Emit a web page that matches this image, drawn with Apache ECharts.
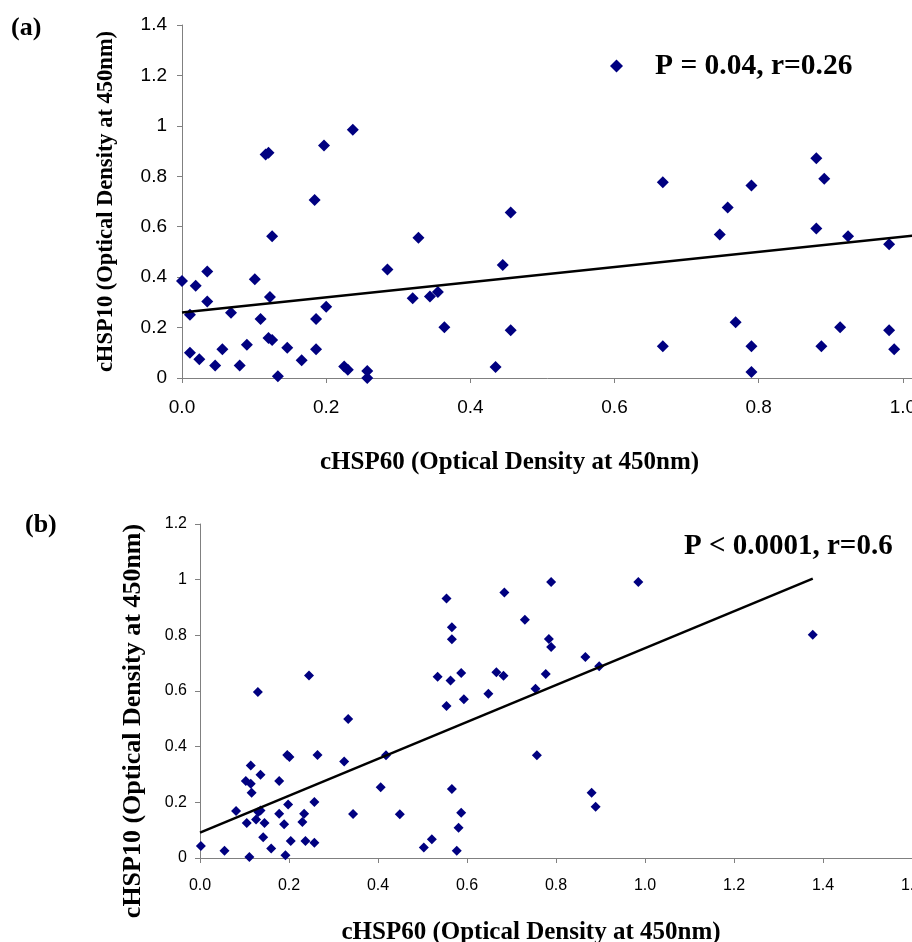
<!DOCTYPE html>
<html><head><meta charset="utf-8">
<script src="https://cdn.jsdelivr.net/npm/echarts@6/dist/echarts.min.js"></script>
<style>html,body{margin:0;padding:0;background:#fff;overflow:hidden}#c{width:912px;height:942px}</style>
</head><body><div id="c"></div>
<script>
// Panel (a)
const aX=[0.000,0.011,0.019,0.035,0.035,0.011,0.024,0.046,0.056,0.068,0.080,0.090,0.101,0.109,0.116,0.120,0.122,0.125,0.120,0.125,0.133,0.146,0.166,0.184,0.186,0.186,0.197,0.200,0.237,0.225,0.230,0.257,0.257,0.285,0.320,0.328,0.344,0.355,0.364,0.435,0.445,0.456,0.456,0.667,0.667,0.746,0.757,0.768,0.790,0.790,0.790,0.880,0.880,0.891,0.887,0.913,0.924,0.981,0.981,0.988];
const aY=[0.385,0.251,0.366,0.422,0.303,0.100,0.074,0.050,0.114,0.259,0.050,0.132,0.392,0.234,0.886,0.893,0.321,0.562,0.159,0.151,0.007,0.120,0.070,0.706,0.234,0.114,0.922,0.283,0.985,0.046,0.033,0.028,0.000,0.430,0.316,0.556,0.323,0.341,0.201,0.044,0.448,0.656,0.189,0.776,0.126,0.569,0.676,0.221,0.763,0.126,0.024,0.872,0.593,0.790,0.126,0.201,0.562,0.530,0.189,0.114];
const trendAX=[0,1.02];
const trendAY=[0.26,0.566];
const statA='P = 0.04, r=0.26';

// Panel (b)
const bX=[0.002,0.055,0.081,0.103,0.105,0.111,0.114,0.114,0.116,0.126,0.130,0.131,0.136,0.136,0.142,0.145,0.160,0.178,0.178,0.189,0.192,0.196,0.201,0.198,0.204,0.230,0.234,0.237,0.245,0.257,0.257,0.264,0.324,0.333,0.344,0.406,0.418,0.449,0.503,0.521,0.534,0.554,0.554,0.563,0.566,0.566,0.566,0.581,0.587,0.587,0.577,0.593,0.648,0.666,0.682,0.684,0.730,0.754,0.757,0.777,0.784,0.789,0.789,0.866,0.880,0.889,0.897,0.985,1.377];
const bY=[0.043,0.026,0.169,0.277,0.126,0.004,0.332,0.267,0.234,0.138,0.596,0.165,0.171,0.299,0.075,0.126,0.034,0.277,0.159,0.121,0.010,0.370,0.363,0.192,0.061,0.129,0.159,0.061,0.656,0.201,0.055,0.370,0.347,0.499,0.158,0.254,0.369,0.157,0.038,0.067,0.651,0.932,0.546,0.638,0.829,0.786,0.248,0.109,0.665,0.163,0.026,0.570,0.590,0.667,0.655,0.954,0.856,0.608,0.369,0.661,0.787,0.758,0.992,0.722,0.234,0.184,0.689,0.992,0.802];
const trendBX=[0,1.377];
const trendBY=[0.091,1.004];
const statB='P < 0.0001, r=0.6';

const xTitle='cHSP60 (Optical Density at 450nm)';
const yTitle='cHSP10 (Optical Density at 450nm)';

const zip=(xs,ys)=>xs.map((x,i)=>[x,ys[i]]);
const axisGray='#808080';
const serif='"Liberation Serif","Times New Roman",serif';
const sans='"Liberation Sans",Arial,sans-serif';
function xAx(gi,max,fs,margin,gap,pad,nfs){
  return {type:'value',gridIndex:gi,min:0,max:max,interval:0.2,
    axisLine:{onZero:false,lineStyle:{color:axisGray,width:1}},
    axisTick:{show:true,inside:false,length:5,lineStyle:{color:axisGray}},
    splitLine:{show:false},
    axisLabel:{fontFamily:sans,fontSize:fs,color:'#000',margin:margin,formatter:v=>v.toFixed(1)},
    name:xTitle,nameLocation:'middle',nameGap:gap,
    nameTextStyle:{fontFamily:serif,fontWeight:'bold',fontSize:nfs,color:'#000',padding:pad}};
}
function yAx(gi,max,fs,margin,gap,pad,nfs){
  return {type:'value',gridIndex:gi,min:0,max:max,interval:0.2,
    axisLine:{show:true,onZero:false,lineStyle:{color:axisGray,width:1}},
    axisTick:{show:true,inside:false,length:5,lineStyle:{color:axisGray}},
    splitLine:{show:false},
    axisLabel:{fontFamily:sans,fontSize:fs,color:'#000',margin:margin,formatter:v=>String(+v.toFixed(1))},
    name:yTitle,nameLocation:'middle',nameGap:gap,
    nameTextStyle:{fontFamily:serif,fontWeight:'bold',fontSize:nfs,color:'#000',padding:pad}};
}
const chart=echarts.init(document.getElementById('c'),null,{renderer:'canvas'});
chart.setOption({
  animation:false,
  backgroundColor:'#fff',
  title:[
    {text:'(a)',left:6,top:10,textStyle:{fontFamily:serif,fontWeight:'bold',fontSize:26,color:'#000'}},
    {text:'(b)',left:20,top:507,textStyle:{fontFamily:serif,fontWeight:'bold',fontSize:26,color:'#000'}},
    {text:statB,left:679,top:527,textStyle:{fontFamily:serif,fontWeight:'bold',fontSize:29,color:'#000'}}
  ],
  legend:{left:605,top:46,data:[{name:statA,icon:'diamond'}],itemWidth:13,itemHeight:13,
    textStyle:{fontFamily:serif,fontWeight:'bold',fontSize:29.5,color:'#000',padding:[0,0,0,27]}},
  grid:[
    {left:182,top:25,width:865,height:353,outerBoundsMode:'none',containLabel:false},
    {left:200,top:524,width:712,height:334,outerBoundsMode:'none',containLabel:false}
  ],
  xAxis:[xAx(0,1.2,19,20,72,[0,210,0,0],25), xAx(1,1.6,16,20,62,[0,50,0,0],25)],
  yAxis:[yAx(0,1.4,19,15,64,[0,0,0,0],22.5), yAx(1,1.2,16,13,54,[0,60,0,0],26)],
  series:[
    {type:'scatter',name:statA,xAxisIndex:0,yAxisIndex:0,data:zip(aX,aY),symbol:'diamond',symbolSize:12,itemStyle:{color:'#000080',opacity:1}},
    {type:'line',name:'trendA',xAxisIndex:0,yAxisIndex:0,data:zip(trendAX,trendAY),showSymbol:false,symbol:'none',lineStyle:{color:'#000',width:2.5},silent:true},
    {type:'scatter',name:'b',xAxisIndex:1,yAxisIndex:1,data:zip(bX,bY),symbol:'diamond',symbolSize:10,itemStyle:{color:'#000080',opacity:1}},
    {type:'line',name:'trendB',xAxisIndex:1,yAxisIndex:1,data:zip(trendBX,trendBY),showSymbol:false,symbol:'none',lineStyle:{color:'#000',width:2.5},silent:true}
  ]
});
</script></body></html>
